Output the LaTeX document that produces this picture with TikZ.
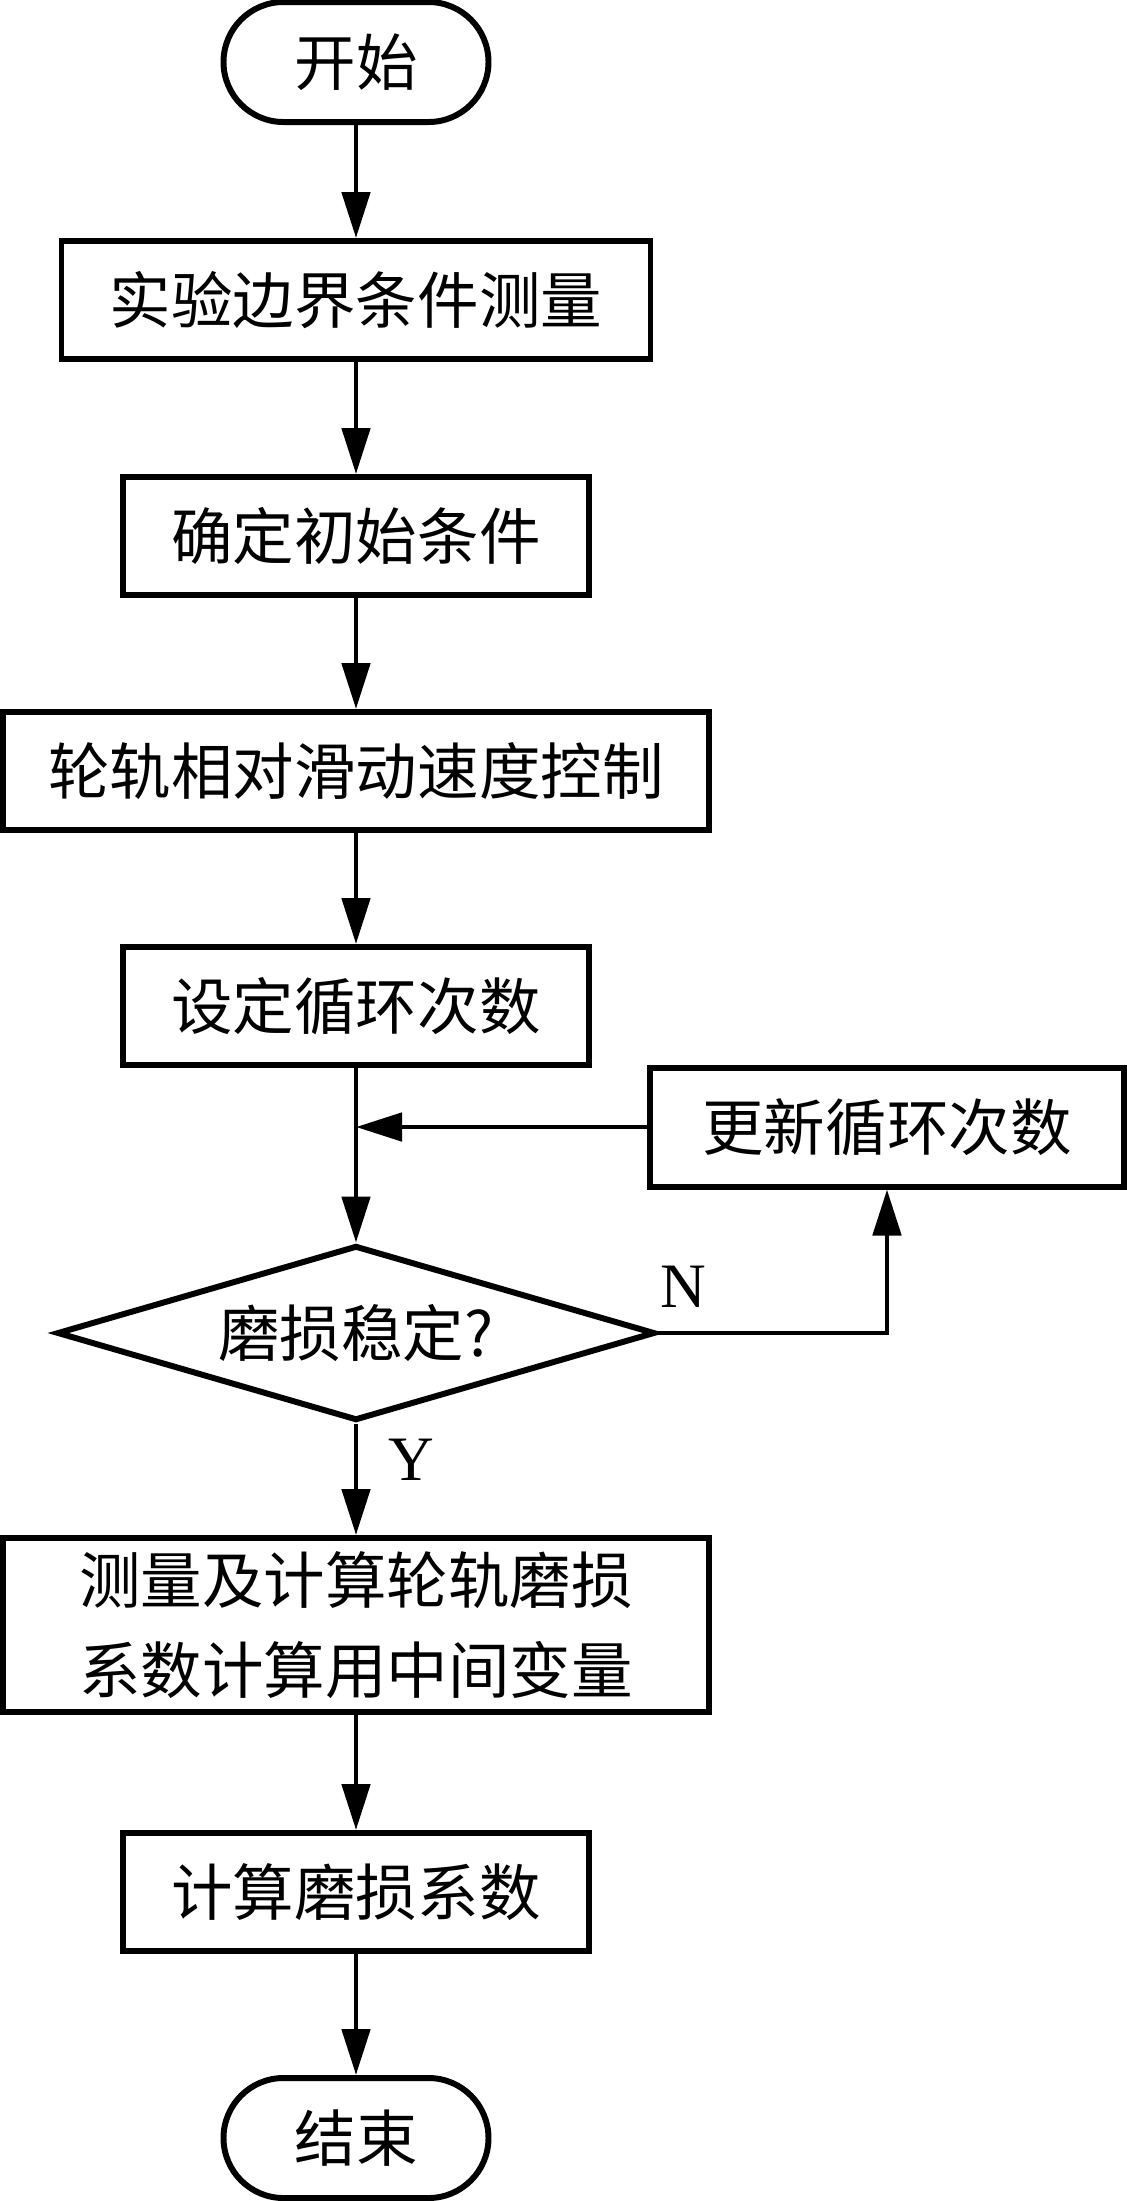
\documentclass[tikz,border=0pt]{standalone}
\usepackage{fontspec}
\setmainfont{Liberation Serif}
\newfontfamily\cjk{Noto Sans CJK SC}
\usepackage{tikz}
\usetikzlibrary{arrows.meta,shapes.geometric}

\begin{document}
\begin{tikzpicture}[line width=1.4pt, >={Triangle[length=4.6mm,width=2.8mm]}]
    \tikzstyle{every node}=[font=\cjk\fontsize{17.5}{25.5}\selectfont]
    \tikzstyle{stepbox}=[draw, rectangle, line width=1.7pt, minimum height=1.18cm, inner sep=0pt]
    \tikzstyle{terminal}=[draw, rectangle, rounded corners=0.6cm, line width=1.7pt, minimum width=2.65cm, minimum height=1.2cm]
    \tikzstyle{decision}=[draw, diamond, aspect=3.42, line width=1.7pt, minimum width=5.98cm, minimum height=1.75cm, inner sep=0pt]
    \tikzstyle{flow}=[->]
    \tikzstyle{annot}=[font=\fontsize{18}{22}\selectfont]
    \def\midx{3.56}

    \useasboundingbox (0,0) rectangle (11.27,-22.01);

    % Draw the main column of steps
    \node[terminal] (start) at (\midx,-0.62) {开始};
    \node[stepbox, minimum width=5.89cm] (measure) at (\midx,-3.00) {实验边界条件测量};
    \node[stepbox, minimum width=4.66cm] (init) at (\midx,-5.36) {确定初始条件};
    \node[stepbox, minimum width=7.06cm] (slip) at (\midx,-7.71) {轮轨相对滑动速度控制};
    \node[stepbox, minimum width=4.66cm] (cycles) at (\midx,-10.06) {设定循环次数};
    \node[decision] (stable) at (\midx,-13.33) {磨损稳定?};
    \node[stepbox, minimum width=7.06cm, minimum height=1.74cm, align=center] (calcvar) at (\midx,-16.25)
        {测量及计算轮轨磨损\\系数计算用中间变量};
    \node[stepbox, minimum width=4.66cm] (coef) at (\midx,-18.92) {计算磨损系数};
    \node[terminal] (end) at (\midx,-21.38) {结束};

    % Draw the loop box
    \node[stepbox, minimum width=4.74cm, minimum height=1.19cm] (update) at (8.87,-11.27) {更新循环次数};
    \coordinate (join) at (\midx,-11.27);

    % Connect the steps
    \foreach \source/\dest in {start/measure,measure/init,init/slip,slip/cycles,calcvar/coef,coef/end}
        \draw[flow] (\source) -- (\dest);
    \draw (cycles) -- (join);
    \draw[flow] (join) -- (stable);
    \draw[flow] (stable) -- (calcvar);

    % Loop back when wear is not stable
    \draw[flow] (stable.east) -| (update.south);
    \draw[flow] (update.west) -- (join);

    % Annotate the branches
    \node[annot] (no) at (6.83,-12.87) {N};
    \node[annot] (yes) at (4.11,-14.60) {Y};

\end{tikzpicture}
\end{document}
